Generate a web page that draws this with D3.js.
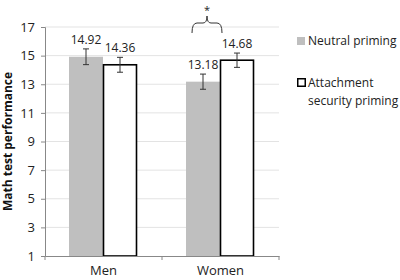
<!DOCTYPE html>
<html>
<head>
<meta charset="utf-8">
<script src="https://cdn.jsdelivr.net/npm/d3@7"></script>
<style>
  body { margin: 0; background: #fff; }
  svg { font-family: "Open Sans", sans-serif; }
</style>
</head>
<body>
<div id="chart"></div>
<script>
var groups = ["Men", "Women"]
var seriesNames = ["Neutral priming", "Attachment security priming"]
var neutralValues = [14.92, 13.18]
var securityValues = [14.36, 14.68]
var neutralErrors = [0.55, 0.53]
var securityErrors = [0.52, 0.5]
var yTicks = [1, 3, 5, 7, 9, 11, 13, 15, 17]

var width = 400, height = 280
var margin = ({ top: 27, right: 121, bottom: 24, left: 45 })

var svg = d3.select("#chart").append("svg")
    .attr("width", width)
    .attr("height", height)

var g = svg.append("g")
    .attr("transform", "translate(" + margin.left + "," + margin.top + ")")

var innerW = width - margin.left - margin.right
var innerH = height - margin.top - margin.bottom

var x0 = d3.scaleBand().domain(groups).range([0, innerW]).paddingInner(0).paddingOuter(0)
var x1 = d3.scaleBand().domain(["neutral", "security"]).range([24, x0.bandwidth() - 25])
var y = d3.scaleLinear().domain([1, 17]).range([innerH, 0])

// gridlines
g.selectAll(".grid").data(yTicks.slice(1)).enter().append("line")
    .attr("x1", 0).attr("x2", innerW)
    .attr("y1", d => y(d)).attr("y2", d => y(d))
    .attr("stroke", "#e3e3e3").attr("stroke-width", 1)

// data rows
var rows = groups.map(function(k, i) {
    return [
        { group: k, key: "neutral", value: neutralValues[i], err: neutralErrors[i] },
        { group: k, key: "security", value: securityValues[i], err: securityErrors[i] }
    ]
})
var flat = rows.flat()

g.selectAll("rect.bar").data(flat).enter().append("rect")
    .attr("class", "bar")
    .attr("x", d => x0(d.group) + x1(d.key) + (d.key == "security" ? 0.5 : 0))
    .attr("y", d => y(d.value))
    .attr("width", d => x1.bandwidth() - (d.key == "security" ? 1 : 0))
    .attr("height", d => y(1) - y(d.value))
    .attr("fill", d => d.key == "neutral" ? "#bfbfbf" : "#fff")
    .attr("stroke", d => d.key == "neutral" ? "none" : "#000")
    .attr("stroke-width", 1.6)

// error bars
var eb = g.selectAll("g.err").data(flat).enter().append("g")
    .attr("transform", d => "translate(" + (x0(d.group) + x1(d.key) + x1.bandwidth() / 2) + ",0)")
eb.append("line")
    .attr("y1", d => y(d.value + d.err)).attr("y2", d => y(d.value - d.err))
    .attr("stroke", "#333").attr("stroke-width", 1)
eb.append("line")
    .attr("x1", -3).attr("x2", 3)
    .attr("y1", d => y(d.value + d.err)).attr("y2", d => y(d.value + d.err))
    .attr("stroke", "#333")
eb.append("line")
    .attr("x1", -3).attr("x2", 3)
    .attr("y1", d => y(d.value - d.err)).attr("y2", d => y(d.value - d.err))
    .attr("stroke", "#333")
eb.append("text")
    .attr("y", d => y(d.value + d.err) - 5)
    .attr("text-anchor", "middle")
    .style("font-size", "12px")
    .attr("fill", "#222")
    .text(d => d.value.toFixed(2))

// y axis
var yaxis = d3.axisLeft(y).tickValues(yTicks).tickSize(4).tickPadding(6)
g.append("g").call(yaxis)
    .call(s => s.select(".domain").attr("stroke", "#888"))
    .call(s => s.selectAll(".tick line").attr("stroke", "#888"))
    .call(s => s.selectAll("text").style("font-size", "13px").attr("fill", "#222").style("font-family", "Open Sans, sans-serif"))

// x axis
var xaxis = d3.axisBottom(x0).tickSize(0).tickPadding(10)
var xg = g.append("g").attr("transform", "translate(0," + innerH + ")").call(xaxis)
xg.select(".domain").attr("stroke", "#888")
xg.selectAll("text").style("font-size", "13px").attr("fill", "#222").style("font-family", "Open Sans, sans-serif")
xg.selectAll(".sep").data([0, innerW / 2, innerW]).enter().append("line")
    .attr("x1", d => d).attr("x2", d => d).attr("y1", 0).attr("y2", 4)
    .attr("stroke", "#888")

// y label
svg.append("text")
    .attr("transform", "translate(12," + (margin.top + innerH / 2) + ") rotate(-90)")
    .attr("text-anchor", "middle")
    .style("font-size", "12px")
    .style("font-weight", "bold")
    .attr("fill", "#111")
    .text("Math test performance")

// significance bracket over women
var bx1 = x0("Women") + x1("neutral") + 6
var bx2 = x0("Women") + x1("security") + 2
var bm = (bx1 + bx2) / 2
var by = y(17) - 4
var bracket = d3.path()
bracket.moveTo(bx1, by + 10)
bracket.quadraticCurveTo(bx1, by, bx1 + 5, by)
bracket.lineTo(bm - 4, by)
bracket.quadraticCurveTo(bm, by, bm, by - 7)
bracket.quadraticCurveTo(bm, by, bm + 4, by)
bracket.lineTo(bx2 - 5, by)
bracket.quadraticCurveTo(bx2, by, bx2, by + 10)
g.append("path").attr("d", bracket.toString())
    .attr("fill", "none").attr("stroke", "#333").attr("stroke-width", 1)
g.append("text")
    .attr("x", bm).attr("y", by - 9)
    .attr("text-anchor", "middle")
    .style("font-size", "11px")
    .attr("fill", "#222")
    .text("*")

// legend
var lg = svg.append("g").attr("transform", "translate(297,0)")
lg.append("rect").attr("x", 0).attr("y", 37).attr("width", 8).attr("height", 8).attr("fill", "#bfbfbf")
lg.append("text").attr("x", 11).attr("y", 45).style("font-size", "12px").attr("fill", "#222").text(seriesNames[0])
lg.append("rect").attr("x", 0.75).attr("y", 78.75).attr("width", 7.5).attr("height", 7.5)
    .attr("fill", "#fff").attr("stroke", "#000").attr("stroke-width", 1.5)
lg.append("text").attr("x", 11).attr("y", 87).style("font-size", "12px").attr("fill", "#222").text("Attachment")
lg.append("text").attr("x", 11).attr("y", 105).style("font-size", "12px").attr("fill", "#222").text("security priming")
</script>
</body>
</html>
